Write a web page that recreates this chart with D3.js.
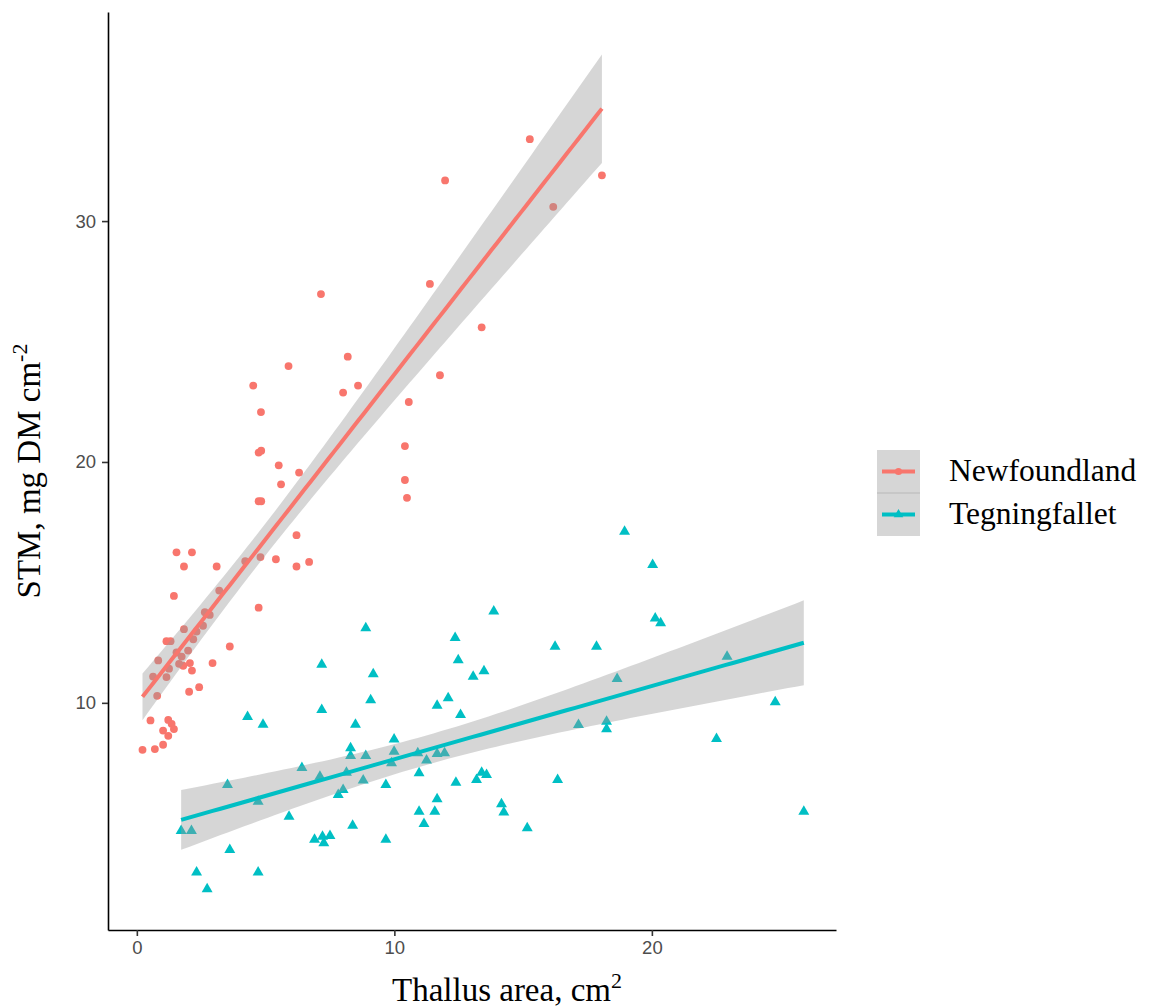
<!DOCTYPE html>
<html>
<head>
<meta charset="utf-8">
<script src="https://cdn.jsdelivr.net/npm/d3@7"></script>
<style>
  html, body { margin: 0; padding: 0; background: #ffffff; }
  svg { display: block; }
</style>
</head>
<body>
<svg id="chart" width="1158" height="1008"></svg>
<script>
// Sites (legend order) and their colours
const categories = ["Newfoundland", "Tegningfallet"];
const seriesColors = ["#F8766D", "#00BFC4"];

// Newfoundland: thallus area (cm2) and STM (mg DM cm-2)
const nfArea = [0.22, 0.70, 1.02, 0.53, 1.22, 1.35, 1.44, 1.02, 1.22, 0.79,
  2.03, 2.42, 0.63, 1.15, 1.25, 0.83, 1.64, 1.80, 2.06, 2.14,
  2.94, 1.54, 1.74, 1.99, 1.15, 1.31, 2.19, 2.32, 2.57, 1.83,
  2.64, 2.83, 3.61, 1.44, 3.20, 4.73, 1.54, 2.14, 1.83, 3.10,
  4.21, 4.80, 5.40, 6.20, 6.69, 6.20, 4.73, 4.83, 5.60, 5.51,
  6.30, 4.73, 4.83, 4.82, 4.52, 5.89, 8.01, 8.59, 8.19, 7.15,
  10.41, 10.41, 10.49, 10.56, 11.77, 11.38, 13.39, 11.97, 15.26, 16.17,
  18.06];
const nfSTM = [8.05, 8.08, 8.26, 9.27, 9.29, 9.13, 8.91, 8.85, 8.63, 10.29,
  10.46, 10.65, 11.09, 11.07, 11.42, 11.76, 11.62, 11.54, 11.65, 11.34,
  11.65, 12.09, 11.92, 12.17, 12.56, 12.56, 12.64, 12.96, 13.20, 13.06,
  13.76, 13.65, 12.34, 14.44, 14.66, 13.95, 16.25, 16.25, 15.66, 15.66,
  15.88, 16.05, 15.96, 15.66, 15.85, 16.96, 18.37, 18.37, 19.07, 19.86,
  19.56, 20.39, 20.47, 22.07, 23.17, 23.98, 22.88, 23.17, 24.37, 26.97,
  20.66, 19.25, 18.51, 22.49, 23.60, 27.39, 25.59, 31.69, 33.40, 30.59,
  31.90];

// Tegningfallet: thallus area (cm2) and STM (mg DM cm-2)
const tgArea = [1.72, 2.12, 2.32, 2.73, 3.61, 3.52, 4.71, 4.71, 4.30, 4.90,
  5.91, 6.41, 6.90, 7.21, 7.26, 7.50, 7.11, 7.18, 7.18, 8.14,
  7.82, 8.01, 8.38, 8.30, 8.30, 8.49, 8.79, 8.89, 8.89, 9.18,
  9.08, 9.67, 9.67, 9.89, 9.99, 9.99, 10.91, 11.25, 10.96, 10.96,
  11.15, 11.57, 11.66, 11.66, 11.95, 11.66, 12.09, 12.57, 12.36, 12.48,
  13.06, 13.48, 13.86, 12.39, 13.19, 13.39, 13.58, 14.16, 14.25, 15.16,
  16.24, 16.34, 17.15, 17.85, 18.24, 18.24, 18.65, 18.94, 20.03, 20.13,
  20.34, 22.51, 22.92, 24.79, 25.90];
const tgSTM = [4.69, 4.69, 2.96, 2.27, 3.90, 6.60, 2.96, 5.90, 9.42, 9.10,
  5.28, 7.30, 4.32, 4.45, 4.18, 4.48, 6.94, 9.71, 11.59, 7.11,
  6.18, 6.39, 4.90, 8.12, 7.80, 9.10, 6.78, 7.80, 13.10, 11.19,
  10.11, 6.60, 4.32, 7.50, 7.98, 8.49, 7.91, 7.61, 7.08, 5.49,
  4.98, 5.49, 6.00, 7.88, 7.91, 9.89, 10.20, 9.50, 12.70, 11.78,
  11.09, 11.32, 13.80, 6.69, 6.80, 7.11, 7.01, 5.80, 5.45, 4.80,
  12.34, 6.80, 9.09, 12.34, 9.22, 8.91, 11.00, 17.11, 15.73, 13.51,
  13.31, 8.51, 11.92, 10.03, 5.49];

// Axis ticks and limits
const xTicks = [0, 10, 20];
const yTicks = [10, 20, 30];
const xDomain = [-1.12, 27.15];
const yDomain = [0.57, 38.68];

const series = [
  { name: categories[0], color: seriesColors[0], shape: "circle", x: nfArea, y: nfSTM },
  { name: categories[1], color: seriesColors[1], shape: "triangle", x: tgArea, y: tgSTM }
];

const svg = d3.select("#chart");
const panel = { left: 108, right: 836, top: 12, bottom: 930 };

const x = d3.scaleLinear().domain(xDomain).range([panel.left, panel.right]);
const y = d3.scaleLinear().domain(yDomain).range([panel.bottom, panel.top]);

// Student t quantile (0.975) via Cornish-Fisher expansion
function tQuantile975(df) {
  const z = 1.959964;
  const z3 = z * z * z, z5 = z3 * z * z, z7 = z5 * z * z;
  return z + (z3 + z) / (4 * df) + (5 * z5 + 16 * z3 + 3 * z) / (96 * df * df)
    + (3 * z7 + 19 * z5 + 17 * z3 - 15 * z) / (384 * df * df * df);
}

// Ordinary least squares fit with 95% confidence band
function linearFit(xs, ys) {
  const n = xs.length;
  const mx = d3.mean(xs), my = d3.mean(ys);
  let sxx = 0, sxy = 0;
  for (let i = 0; i < n; i++) {
    sxx += (xs[i] - mx) ** 2;
    sxy += (xs[i] - mx) * (ys[i] - my);
  }
  const b = sxy / sxx, a = my - b * mx;
  let sse = 0;
  for (let i = 0; i < n; i++) sse += (ys[i] - a - b * xs[i]) ** 2;
  const s = Math.sqrt(sse / (n - 2));
  const t = tQuantile975(n - 2);
  const [lo, hi] = d3.extent(xs);
  return d3.range(80).map(i => {
    const xv = lo + (hi - lo) * i / 79;
    const fit = a + b * xv;
    const se = s * Math.sqrt(1 / n + (xv - mx) ** 2 / sxx);
    return { x: xv, fit: fit, lower: fit - t * se, upper: fit + t * se };
  });
}

const symbolFor = shape => shape === "circle"
  ? d3.symbol().type(d3.symbolCircle).size(48)
  : d3.symbol().type(d3.symbolTriangle).size(52);

// Points
const pointLayer = svg.append("g");
series.forEach(s => {
  pointLayer.selectAll(null)
    .data(d3.range(s.x.length))
    .join("path")
    .attr("d", symbolFor(s.shape))
    .attr("transform", i => `translate(${x(s.x[i])},${y(s.y[i])})`)
    .attr("fill", s.color);
});

// Regression ribbons and lines
const smoothLayer = svg.append("g");
series.forEach(s => {
  const band = linearFit(s.x, s.y);
  smoothLayer.append("path")
    .datum(band)
    .attr("d", d3.area().x(d => x(d.x)).y0(d => y(d.lower)).y1(d => y(d.upper)))
    .attr("fill", "#999999")
    .attr("fill-opacity", 0.4);
  smoothLayer.append("path")
    .datum(band)
    .attr("d", d3.line().x(d => x(d.x)).y(d => y(d.fit)))
    .attr("fill", "none")
    .attr("stroke", s.color)
    .attr("stroke-width", 4);
});

// Axes
const xAxis = svg.append("g")
  .attr("transform", `translate(0,${panel.bottom})`)
  .call(d3.axisBottom(x).tickValues(xTicks).tickSize(6).tickPadding(5).tickSizeOuter(0));
const yAxis = svg.append("g")
  .attr("transform", `translate(${panel.left},0)`)
  .call(d3.axisLeft(y).tickValues(yTicks).tickSize(6).tickPadding(6).tickSizeOuter(0));

[xAxis, yAxis].forEach(ax => {
  ax.select(".domain").attr("stroke", "#000000").attr("stroke-width", 1.6);
  ax.selectAll(".tick line").attr("stroke", "#333333").attr("stroke-width", 1.6);
  ax.selectAll(".tick text")
    .attr("fill", "#4D4D4D")
    .attr("font-family", "'Liberation Sans', Arial, sans-serif")
    .attr("font-size", 18.5);
});

// Axis titles
const xTitle = svg.append("text")
  .attr("x", 507)
  .attr("y", 1001)
  .attr("text-anchor", "middle")
  .attr("font-family", "'Liberation Serif', 'Times New Roman', serif")
  .attr("font-size", 33)
  .attr("fill", "#000000");
xTitle.append("tspan").text("Thallus area, cm");
xTitle.append("tspan").attr("font-size", 22).attr("dy", -13).text("2");

const yTitle = svg.append("text")
  .attr("transform", "translate(40,471) rotate(-90)")
  .attr("text-anchor", "middle")
  .attr("font-family", "'Liberation Serif', 'Times New Roman', serif")
  .attr("font-size", 33)
  .attr("fill", "#000000");
yTitle.append("tspan").text("STM, mg DM cm");
yTitle.append("tspan").attr("font-size", 22).attr("dy", -13).text("-2");

// Legend
const legend = svg.append("g").attr("transform", "translate(877,450)");
const keySize = 43;
series.forEach((s, i) => {
  const key = legend.append("g").attr("transform", `translate(0,${i * keySize})`);
  key.append("rect")
    .attr("width", keySize).attr("height", keySize)
    .attr("fill", "#999999").attr("fill-opacity", 0.4);
  key.append("line")
    .attr("x1", 5).attr("x2", keySize - 5)
    .attr("y1", keySize / 2).attr("y2", keySize / 2)
    .attr("stroke", s.color).attr("stroke-width", 4);
  key.append("path")
    .attr("d", symbolFor(s.shape).size(40)())
    .attr("transform", `translate(${keySize / 2},${keySize / 2})`)
    .attr("fill", s.color);
  key.append("text")
    .attr("x", 72)
    .attr("y", keySize / 2 + 9)
    .attr("font-family", "'Liberation Serif', 'Times New Roman', serif")
    .attr("font-size", 31.5)
    .attr("fill", "#000000")
    .text(s.name);
});
legend.append("line")
  .attr("x1", 0).attr("x2", keySize)
  .attr("y1", keySize).attr("y2", keySize)
  .attr("stroke", "#B8B8B8").attr("stroke-width", 1);
</script>
</body>
</html>
